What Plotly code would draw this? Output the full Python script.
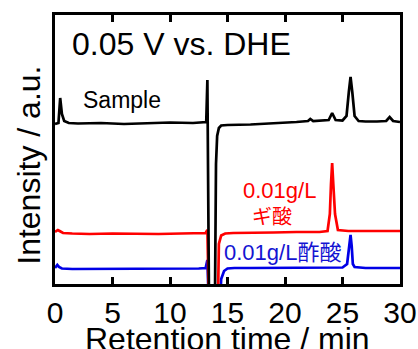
import plotly.graph_objects as go

# Chromatograms at 0.05 V vs. DHE (intensity in arbitrary units)
t_sample = [0, 0.3, 0.45, 0.6, 0.8, 1.2, 2, 4, 6, 8, 10, 12, 13.15, 13.25, 13.4,
            13.9, 14.0, 14.1, 14.25, 14.45, 15, 17, 19, 21, 22.0, 22.2, 22.45,
            23, 23.8, 24.1, 24.4, 25, 25.35, 25.55, 25.7, 25.85, 26.05, 26.4,
            27, 28, 28.8, 29.1, 29.4, 30]
i_sample = [160, 161, 186, 170, 163, 161, 160.5, 161, 160, 161, 161.5, 161, 162, 204, -30,
            -30, 120, 148, 156, 158.5, 159, 159.5, 160.5, 162, 163, 165, 163,
            163.5, 164, 171, 164, 163.5, 168, 192, 207, 192, 168, 163,
            162.5, 162.5, 163, 167, 163, 162]

t_formic = [0, 0.25, 0.4, 0.7, 1.5, 3, 5, 7, 9, 11, 12.5, 13.1, 13.25, 13.4,
            14.15, 14.25, 14.45, 14.8, 15.5, 17, 19, 21, 23, 23.7, 23.9, 24.0,
            24.1, 24.2, 24.35, 24.6, 25.5, 27, 28.5, 30]
i_formic = [52, 54, 53, 51, 50.5, 50, 50.5, 50, 50, 50.5, 51, 51, 54, -30,
            -30, 40, 48.5, 50.5, 51, 51, 51.5, 52, 52, 53, 70, 100,
            121, 100, 70, 54, 53, 53, 53, 53]

t_acetic = [0, 0.2, 0.35, 0.6, 1.5, 3, 5, 7, 9, 11, 12.5, 13.1, 13.25, 13.4,
            14.3, 14.45, 14.7, 15.0, 15.6, 17, 19, 21, 23, 25.0, 25.4, 25.6,
            25.7, 25.8, 25.9, 26.05, 26.4, 27, 28.5, 30]
i_acetic = [16, 19, 17, 15.5, 15, 15, 15, 15.5, 15, 15.5, 15.5, 16, 24, -30,
            -30, 5, 13, 15.5, 16, 16, 16, 16, 16, 16.5, 20, 38,
            49, 38, 20, 17, 16.5, 16, 16, 16]

x_ticks = [0, 5, 10, 15, 20, 25, 30]

FONT = "Liberation Sans, Arial, Noto Sans CJK JP, sans-serif"

fig = go.Figure()
fig.add_trace(go.Scatter(x=t_acetic, y=i_acetic, mode="lines",
                         line=dict(color="#0000e6", width=2.7)))
fig.add_trace(go.Scatter(x=t_formic, y=i_formic, mode="lines",
                         line=dict(color="#ff0000", width=2.7)))
fig.add_trace(go.Scatter(x=t_sample, y=i_sample, mode="lines",
                         line=dict(color="#000000", width=2.7)))

annotations = [
    dict(text="0.05 V vs. DHE", x=1.3, y=240, xanchor="left", yanchor="middle",
         font=dict(size=32, color="black")),
    dict(text="Sample", x=2.3, y=184, xanchor="left", yanchor="middle",
         font=dict(size=23, color="black")),
    dict(text="0.01g/L", x=19.5, y=94, xanchor="center", yanchor="middle",
         font=dict(size=22, color="#ff0000")),
    dict(text="ギ酸", x=18.9, y=67, xanchor="center", yanchor="middle",
         font=dict(size=20, color="#ff0000")),
    dict(text="0.01g/L酢酸", x=19.8, y=32, xanchor="center", yanchor="middle",
         font=dict(size=22, color="#1414d2")),
    dict(text="Intensity / a.u.", xref="paper", yref="paper", x=-0.075, y=0.44,
         xanchor="center", yanchor="middle", textangle=-90,
         font=dict(size=32, color="black")),
    dict(text="Retention time / min", xref="paper", yref="paper", x=0.5, y=-0.205,
         xanchor="center", yanchor="middle", font=dict(size=32, color="black")),
]
for a in annotations:
    a.setdefault("xref", "x")
    a.setdefault("yref", "y")
    a["showarrow"] = False

fig.update_layout(
    width=418, height=349,
    margin=dict(l=55, r=18, t=15, b=65, autoexpand=False),
    paper_bgcolor="white", plot_bgcolor="white",
    showlegend=False,
    font=dict(family=FONT, color="black"),
    annotations=annotations,
    xaxis=dict(range=[0, 30], tickvals=x_ticks, ticks="inside", ticklen=7,
               tickwidth=3, tickcolor="black", showline=True, linewidth=3,
               linecolor="black", mirror="ticks", showgrid=False, zeroline=False,
               automargin=False, tickfont=dict(size=30, color="black")),
    yaxis=dict(range=[0, 269], showticklabels=False, ticks="", showline=True,
               linewidth=3, linecolor="black", mirror=True, showgrid=False,
               zeroline=False, automargin=False),
)

fig.write_html("out.html")
